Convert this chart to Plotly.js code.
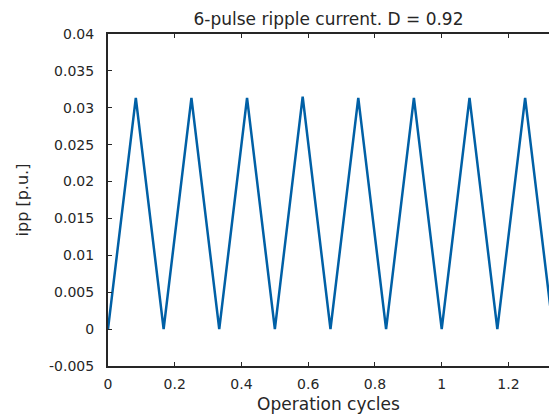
<!DOCTYPE html>
<html>
<head>
<meta charset="utf-8">
<script src="https://cdn.plot.ly/plotly-3.0.1.min.js"></script>
<style>
  html, body { margin: 0; padding: 0; background: #fff; }
  #chart { width: 549px; height: 414px; }
</style>
</head>
<body>
<div id="chart"></div>
<script>
// Triangular ripple: corners every 1/12 of an operation cycle
const cycleTimes = [0, 1/12, 2/12, 3/12, 4/12, 5/12, 6/12, 7/12, 8/12,
                    9/12, 10/12, 11/12, 12/12, 13/12, 14/12, 15/12, 16/12];
const rippleValues = [0, 0.03135, 0, 0.03135, 0, 0.03135, 0, 0.0315, 0,
                      0.03135, 0, 0.03135, 0, 0.03135, 0, 0.03135, 0];

const xTicks = [0, 0.2, 0.4, 0.6, 0.8, 1, 1.2];
const xTickLabels = ['0', '0.2', '0.4', '0.6', '0.8', '1', '1.2'];
const yTicks = [-0.005, 0, 0.005, 0.01, 0.015, 0.02, 0.025, 0.03, 0.035, 0.04];
const yTickLabels = ['-0.005', '0', '0.005', '0.01', '0.015', '0.02', '0.025', '0.03', '0.035', '0.04'];

const ink = '#262626';
const fontFamily = 'DejaVu Sans, sans-serif';

const trace = {
  x: cycleTimes,
  y: rippleValues,
  type: 'scatter',
  mode: 'lines',
  line: { color: '#0060a6', width: 2.5 },
  hoverinfo: 'skip'
};

const layout = {
  width: 549,
  height: 414,
  margin: { l: 108, r: 0, t: 34, b: 48 },
  paper_bgcolor: '#ffffff',
  plot_bgcolor: '#ffffff',
  showlegend: false,
  font: { family: fontFamily, size: 14, color: ink },
  title: {
    text: '6-pulse ripple current. D = 0.92',
    font: { family: fontFamily, size: 17, color: ink },
    x: 0.5, xref: 'paper', xanchor: 'center',
    y: (414 - 19) / 414, yref: 'container', yanchor: 'middle'
  },
  xaxis: {
    range: [0, 1.3215],
    tickmode: 'array', tickvals: xTicks, ticktext: xTickLabels,
    ticks: 'inside', ticklen: 4, tickwidth: 1, tickcolor: ink,
    showline: true, linecolor: ink, linewidth: 2, mirror: 'ticks',
    showgrid: false, zeroline: false,
    ticklabelstandoff: 4,
    tickfont: { family: fontFamily, size: 14, color: ink },
    title: { text: 'Operation cycles', font: { family: fontFamily, size: 17, color: ink }, standoff: 9 }
  },
  yaxis: {
    range: [-0.005, 0.04],
    tickmode: 'array', tickvals: yTicks, ticktext: yTickLabels,
    ticks: 'inside', ticklen: 4, tickwidth: 1, tickcolor: ink,
    showline: true, linecolor: ink, linewidth: 2, mirror: false,
    showgrid: false, zeroline: false,
    ticklabelstandoff: 9,
    tickfont: { family: fontFamily, size: 14, color: ink },
    title: { text: 'ipp [p.u.]', font: { family: fontFamily, size: 16, color: ink }, standoff: 16 }
  }
};

Plotly.newPlot('chart', [trace], layout, { staticPlot: true, displayModeBar: false });
</script>
</body>
</html>
